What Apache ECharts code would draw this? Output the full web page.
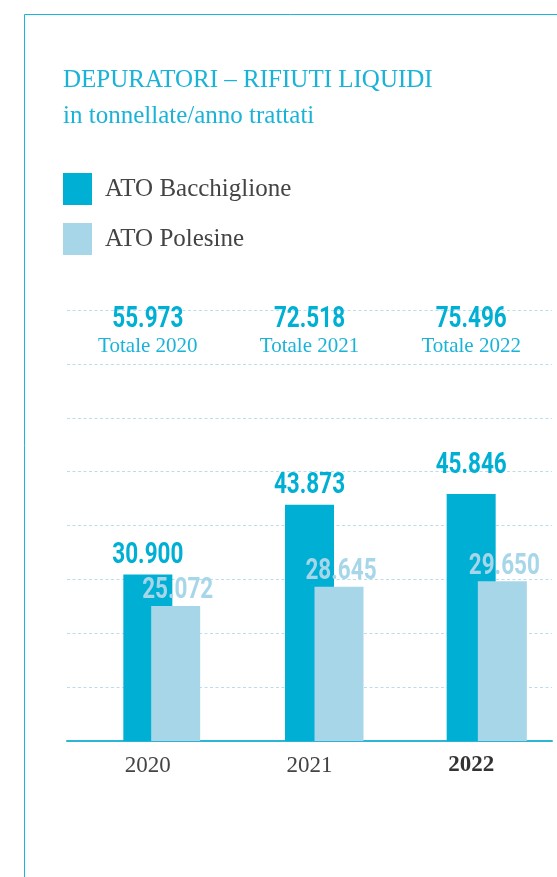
<!DOCTYPE html>
<html>
<head>
	<meta charset="utf-8">
	<title>Depuratori - rifiuti liquidi</title>
	<style>
		html, body { margin:0; padding:0; background:#fff; }
		#chart1 { width:557px; height:877px; }
	</style>
</head>

<body>
	<div id="chart1"></div>

	<script src="https://cdn.jsdelivr.net/npm/echarts@6/dist/echarts.min.js"></script>
	<script>

	// dati
	var anni = ['2020', '2021', '2022'];
	var bacchiglione = [30900, 43873, 45846];
	var polesine = [25072, 28645, 29650];
	var totali = [55973, 72518, 75496];
	var scalaMax = 80000, scalaPasso = 10000;

	var blu = '#00afd4', azzurro = '#a8d6e9', titolo = '#1ab3d8';
	var serif = "'Liberation Serif', 'DejaVu Serif', serif";
	var numFont = "Roboto, 'Liberation Sans', sans-serif";
	var numSize = 30, numScale = 0.75;

	function fmt(v) {
		return String(v).replace(/\B(?=(\d{3})+(?!\d))/g, '.');
	}

	// numero "stretto": testo in grassetto compresso in orizzontale
	function numero(txt, x, y, colore) {
		return {
			type: 'text', x: x, y: y, scaleX: numScale, silent: true,
			style: {
				text: txt, fill: colore, fontFamily: numFont, fontWeight: 'bold', fontSize: numSize,
				align: 'center', verticalAlign: 'middle'
			}
		};
	}

	function coppie(valori) {
		var out = [];
		for (var i = 0; i < anni.length; i++) out.push([anni[i], valori[i]]);
		return out;
	}

	function show() {
		var myChart = echarts.init(document.getElementById('chart1'));

		var option = {
			backgroundColor: '#fff',
			animation: false,
			title: {
				text: 'DEPURATORI – RIFIUTI LIQUIDI\nin tonnellate/anno trattati',
				left: 63, top: 62, padding: 0,
				textStyle: { color: titolo, fontFamily: serif, fontWeight: 'normal', fontSize: 25, lineHeight: 36 }
			},
			legend: {
				orient: 'vertical', left: 63, top: 173, padding: 0,
				itemWidth: 29, itemHeight: 32, itemGap: 18, icon: 'rect',
				selectedMode: false,
				textStyle: { color: '#444', fontFamily: serif, fontSize: 25, padding: [6, 0, 0, 8] },
				data: ['ATO Bacchiglione', 'ATO Polesine']
			},
			graphic: [
				{ type: 'line', shape: { x1: 24.5, y1: 14.5, x2: 557, y2: 14.5 }, style: { stroke: '#1ab6d9', lineWidth: 1 } },
				{ type: 'line', shape: { x1: 24.5, y1: 14.5, x2: 24.5, y2: 877 }, style: { stroke: '#1ab6d9', lineWidth: 1 } }
			],
			grid: [
				{ left: 67, right: 5, top: 310, bottom: 136, outerBoundsMode: 'none' },
				// griglia spostata a destra per le barre chiare
				{ left: 94, width: 490, top: 310, bottom: 136, outerBoundsMode: 'none' }
			],
			xAxis: [
				{
					type: 'category', gridIndex: 0, data: anni,
					axisLine: { lineStyle: { color: '#2db5d7', width: 2 } },
					axisTick: { show: false },
					axisLabel: {
						margin: 13,
						formatter: function (v) { return v == '2022' ? '{b|' + v + '}' : '{n|' + v + '}'; },
						rich: {
							n: { color: '#444', fontFamily: serif, fontSize: 23 },
							b: { color: '#333', fontFamily: serif, fontSize: 23, fontWeight: 'bold' }
						}
					}
				},
				{ type: 'category', gridIndex: 1, data: anni, show: false }
			],
			yAxis: [
				{
					type: 'value', gridIndex: 0, min: 0, max: scalaMax, interval: scalaPasso,
					axisLabel: { show: false }, axisLine: { show: false }, axisTick: { show: false },
					splitLine: { lineStyle: { color: '#b9ddee', type: [3, 2.5], width: 1 } }
				},
				{ type: 'value', gridIndex: 1, min: 0, max: scalaMax, interval: scalaPasso, show: false, splitLine: { show: false } }
			],
			series: [
				{
					name: 'ATO Bacchiglione', type: 'bar', xAxisIndex: 0, yAxisIndex: 0,
					barWidth: 49, itemStyle: { color: blu }, silent: true,
					data: bacchiglione
				},
				{
					name: 'ATO Polesine', type: 'bar', xAxisIndex: 1, yAxisIndex: 1,
					barWidth: 49, itemStyle: { color: azzurro }, silent: true, z: 3,
					data: polesine
				},
				{
					// etichette barre scure
					type: 'custom', xAxisIndex: 0, yAxisIndex: 0, clip: false, silent: true, z: 4,
					data: coppie(bacchiglione),
					renderItem: function (params, api) {
						var p = api.coord([api.value(0), api.value(1)]);
						var gap = params.dataIndex == 2 ? 21 : 11;
						return numero(fmt(api.value(1)), p[0], p[1] - gap - 8, blu);
					}
				},
				{
					// etichette barre chiare
					type: 'custom', xAxisIndex: 1, yAxisIndex: 1, clip: false, silent: true, z: 5,
					data: coppie(polesine),
					renderItem: function (params, api) {
						var p = api.coord([api.value(0), api.value(1)]);
						return numero(fmt(api.value(1)), p[0] + 2, p[1] - 7 - 8, azzurro);
					}
				},
				{
					// totali in alto
					type: 'custom', xAxisIndex: 0, yAxisIndex: 0, clip: false, silent: true, z: 4,
					data: coppie(totali),
					renderItem: function (params, api) {
						var x = api.coord([api.value(0), 0])[0];
						var top = api.coord([api.value(0), scalaMax])[1];
						return {
							type: 'group',
							children: [
								numero(fmt(api.value(1)), x, top + 9, blu),
								{
									type: 'text', x: x, y: top + 36, silent: true,
									style: {
										text: 'Totale ' + anni[params.dataIndex], fill: titolo,
										fontFamily: serif, fontSize: 21, align: 'center', verticalAlign: 'middle'
									}
								}
							]
						};
					}
				}
			]
		};

		myChart.setOption(option);
	}

	show();

	</script>
</body>

</html>
